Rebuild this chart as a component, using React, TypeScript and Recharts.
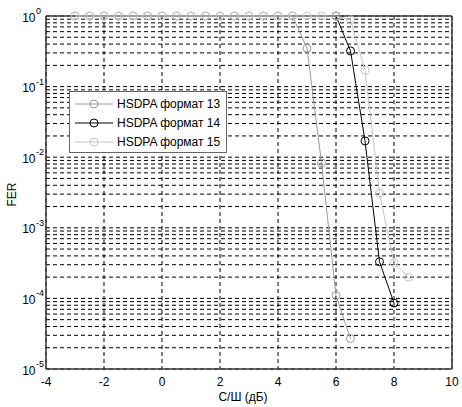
import React from 'react';
import {
	LineChart, Line, XAxis, YAxis, CartesianGrid, Legend, ReferenceLine
} from 'recharts';

// С/Ш, dB
const snr = [-3, -2.5, -2, -1.5, -1, -0.5, 0, 0.5, 1, 1.5, 2, 2.5, 3, 3.5, 4, 4.5, 5, 5.5, 6, 6.5, 7, 7.5, 8, 8.5];

const fer13 = [1, 1, 1, 1, 1, 1, 1, 1, 1, 1, 1, 1, 1, 1, 1, 1, 0.35, 0.0083, 1.1e-4, 2.7e-5, null, null, null, null];
const fer14 = [null, null, null, null, null, null, null, null, null, null, null, null, null, null, null, null, null, null, 1, 0.32, 0.017, 3.3e-4, 8.6e-5, null];
const fer15 = [1, 1, 1, 1, 1, 1, 1, 1, 1, 1, 1, 1, 1, 1, 1, 1, 1, 1, 1, 0.88, 0.17, 0.0031, 3.2e-4, 2.0e-4];

const xTicks = [-4, -2, 0, 2, 4, 6, 8, 10];
const yTicks = [1e-5, 1e-4, 1e-3, 1e-2, 1e-1, 1];
const decades = [-5, -4, -3, -2, -1];
const mantissas = [2, 3, 4, 5, 6, 7, 8, 9];

const minorTicks: number[] = [];
decades.forEach((d) => mantissas.forEach((m) => minorTicks.push(m * Math.pow(10, d))));

const data = snr.map((x, i) => ({ x, f13: fer13[i], f14: fer14[i], f15: fer15[i] }));

const FONT = '"Liberation Sans", Arial, sans-serif';
const GRID = '#000';
const DASH = '4 3';
const FRAME = '#3a3a3a';

const PowerTick = (props: any) => {
	const { y, payload } = props;
	const exp = Math.round(Math.log10(payload.value));
	return (
		<g>
			<text x={35.5} y={y + 1.5} textAnchor="end" dominantBaseline="central" fontSize={12} fill="#000" fontFamily={FONT}>10</text>
			<text x={36} y={y - 5} textAnchor="start" dominantBaseline="central" fontSize={9} fill="#000" fontFamily={FONT}>{exp}</text>
		</g>
	);
};

const LegendBox = ({ payload }: any) => (
	<div style={{ width: 156, height: 60, border: '1px solid #666', background: '#fff', fontFamily: FONT }}>
		<svg width={156} height={60} style={{ display: 'block' }}>
			{(payload || []).map((p: any, i: number) => {
				const cy = 12 + i * 19;
				return (
					<g key={p.value}>
						<line x1={5} x2={43} y1={cy} y2={cy} stroke={p.color} strokeWidth={1} />
						<circle cx={24} cy={cy} r={4} fill="none" stroke={p.color} strokeWidth={1} />
						<text x={47} y={cy} dominantBaseline="central" fontSize={12} fill="#000">{p.value}</text>
					</g>
				);
			})}
		</svg>
	</div>
);

const FerLabel = ({ viewBox }: any) => {
	const cx = 12;
	const cy = viewBox.y + viewBox.height / 2 + 2;
	return (
		<text x={cx} y={cy} transform={`rotate(-90, ${cx}, ${cy})`} textAnchor="middle" dominantBaseline="central" fontSize={12} fontFamily={FONT} fill="#000">
			FER
		</text>
	);
};

export default function App() {
	return (
		<div style={{ position: 'absolute', left: 0, top: 0, background: '#fff' }}>
			<LineChart width={462} height={407} data={data} margin={{ top: 16, right: 10, bottom: 0, left: 0 }} style={{ fontFamily: FONT }}>
				<CartesianGrid stroke={GRID} strokeDasharray={DASH} />
				{minorTicks.map((v) => (
					<ReferenceLine key={v} y={v} stroke={GRID} strokeDasharray={DASH} />
				))}
				<ReferenceLine y={1} stroke={FRAME} strokeWidth={1.5} />
				<ReferenceLine x={10} stroke={FRAME} strokeWidth={1.5} />
				<XAxis
					dataKey="x"
					type="number"
					domain={[-4, 10]}
					ticks={xTicks}
					height={38}
					tickLine={false}
					axisLine={{ stroke: FRAME, strokeWidth: 1.5 }}
					tick={{ fill: '#000', fontSize: 12, fontFamily: FONT }}
					label={{ value: 'С/Ш (дБ)', position: 'insideBottom', offset: 6, dx: -6, fill: '#000', fontSize: 12, fontFamily: FONT }}
				/>
				<YAxis
					scale="log"
					domain={[1e-5, 1]}
					ticks={yTicks}
					width={46}
					tickLine={false}
					axisLine={{ stroke: FRAME, strokeWidth: 1.5 }}
					tick={<PowerTick />}
					label={<FerLabel />}
				/>
				<Legend
					layout="horizontal"
					verticalAlign="middle"
					align="center"
					content={<LegendBox />}
					wrapperStyle={{ position: 'absolute', left: 69, top: 91, width: 158, height: 62 }}
				/>
				<Line dataKey="f13" name="HSDPA формат 13" stroke="#9a9a9a" strokeWidth={1} dot={{ r: 4, fill: 'none', stroke: '#9a9a9a', strokeWidth: 1 }} isAnimationActive={false} />
				<Line dataKey="f14" name="HSDPA формат 14" stroke="#000" strokeWidth={1} dot={{ r: 4, fill: 'none', stroke: '#000', strokeWidth: 1 }} isAnimationActive={false} />
				<Line dataKey="f15" name="HSDPA формат 15" stroke="#c4c4c4" strokeWidth={1} dot={{ r: 4, fill: 'none', stroke: '#c4c4c4', strokeWidth: 1 }} isAnimationActive={false} />
			</LineChart>
		</div>
	);
}
